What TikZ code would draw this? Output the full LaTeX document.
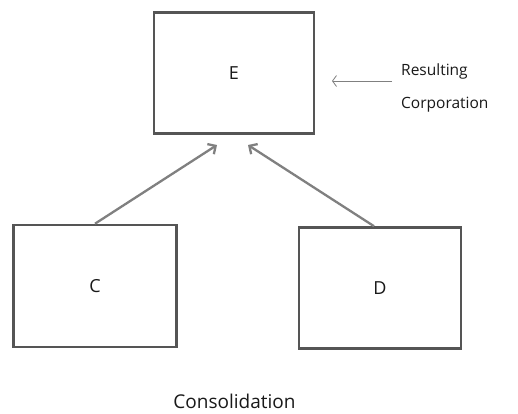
\documentclass[tikz,border=0pt]{standalone}
\usepackage{fontspec}
\setmainfont{Open Sans}
\usetikzlibrary{arrows.meta,calc}
\definecolor{boxcolor}{RGB}{85,85,85}
\definecolor{arrowcolor}{RGB}{128,128,128}
\colorlet{Tcolor}{black!90}

\begin{document}
\begin{tikzpicture}[x=1pt,y=-1pt]

\useasboundingbox[fill=white] (0,0) rectangle (518,413);

\begin{scope}[every node/.style={draw=boxcolor,line width=2.6pt,rectangle,inner sep=0pt,text=Tcolor,font=\fontsize{18}{20}\selectfont}]
\node[minimum width=160,minimum height=121] (E) at (234,73) {E};
\node[minimum width=163,minimum height=122] (C) at (95,286) {C};
\node[minimum width=162,minimum height=121] (D) at (380,288) {D};
\end{scope}

\begin{scope}[every node/.style={anchor=base west,inner sep=0pt,text=Tcolor,font=\fontsize{15.5}{18}\selectfont}]
\node (res1) at (401,75) {Resulting};
\node (res2) at (401,108) {Corporation};
\end{scope}
\node[anchor=base,inner sep=0pt,text=Tcolor,font=\fontsize{19}{22}\selectfont] (cons) at (234.5,408) {Consolidation};

\coordinate (eC) at (217,145);
\coordinate (eD) at (248,145);
\coordinate (eR) at (332,81);

\begin{scope}[arrowcolor,line width=2.3pt,-{Straight Barb[length=6pt,width=12pt]}]
  \draw (C.north) -- (eC);
  \draw ($(D.north)+(-6,0)$) -- (eD);
\end{scope}
\draw[arrowcolor,line width=0.8pt,-{Straight Barb[length=4pt,width=11pt]}] (res1.west |- eR) ++(-9,0) -- (eR);

\end{tikzpicture}
\end{document}
